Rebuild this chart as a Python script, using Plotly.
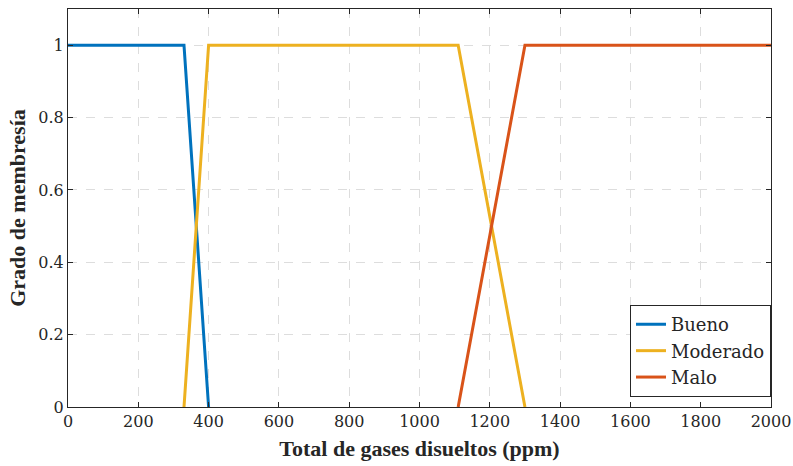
import plotly.graph_objects as go

# Membership functions (trapezoidal) for total dissolved gases
x_bueno = [0, 330, 400]
y_bueno = [1, 1, 0]

x_moderado = [330, 400, 1110, 1300]
y_moderado = [0, 1, 1, 0]

x_malo = [1110, 1300, 2000]
y_malo = [0, 1, 1]

x_ticks = [0, 200, 400, 600, 800, 1000, 1200, 1400, 1600, 1800, 2000]
y_ticks = [0, 0.2, 0.4, 0.6, 0.8, 1]
y_tick_text = ["0", "0.2", "0.4", "0.6", "0.8", "1"]

title_family = "Liberation Serif"
text_family = "DejaVu Serif"
ink = "#262626"

fig = go.Figure()
fig.add_trace(go.Scatter(x=x_bueno, y=y_bueno, mode="lines", name="Bueno",
                         line=dict(color="#0072BD", width=3)))
fig.add_trace(go.Scatter(x=x_moderado, y=y_moderado, mode="lines", name="Moderado",
                         line=dict(color="#EDB120", width=3)))
fig.add_trace(go.Scatter(x=x_malo, y=y_malo, mode="lines", name="Malo",
                         line=dict(color="#D95319", width=3)))

fig.update_layout(
    template="none",
    width=793, height=466,
    margin=dict(l=68, r=22, t=9, b=59),
    paper_bgcolor="white", plot_bgcolor="white",
    font=dict(family=text_family, color=ink, size=16),
    legend=dict(x=1, y=0.025, xanchor="right", yanchor="bottom",
                bgcolor="white", bordercolor=ink, borderwidth=1,
                font=dict(size=18, family=text_family, color=ink),
                tracegroupgap=0, itemwidth=30),
    showlegend=True,
)

fig.update_xaxes(
    range=[0, 2000], tickmode="array", tickvals=x_ticks,
    tickfont_family=text_family, tickfont_size=16, tickfont_color=ink,
    title_text="<b>Total de gases disueltos (ppm)</b>",
    title_font=dict(size=22, family=title_family, color=ink),
    title_standoff=10,
)
fig.update_yaxes(
    range=[0, 1.1], tickmode="array", tickvals=y_ticks, ticktext=y_tick_text,
    tickfont_family=text_family, tickfont_size=16, tickfont_color=ink,
    title_text="<b>Grado de membresía</b>",
    title_font=dict(size=22, family=title_family, color=ink),
    title_standoff=6,
)
fig.update_xaxes(
    showline=True, linecolor=ink, linewidth=1, mirror="ticks",
    ticks="inside", ticklen=5, tickcolor=ink,
    showgrid=True, gridcolor="#DDDDDD", griddash="dash", gridwidth=1,
    zeroline=False, automargin=False,
)
fig.update_yaxes(
    showline=True, linecolor=ink, linewidth=1, mirror="ticks",
    ticks="inside", ticklen=5, tickcolor=ink,
    showgrid=True, gridcolor="#DDDDDD", griddash="dash", gridwidth=1,
    zeroline=False, automargin=False,
)

fig.write_html("out.html")
